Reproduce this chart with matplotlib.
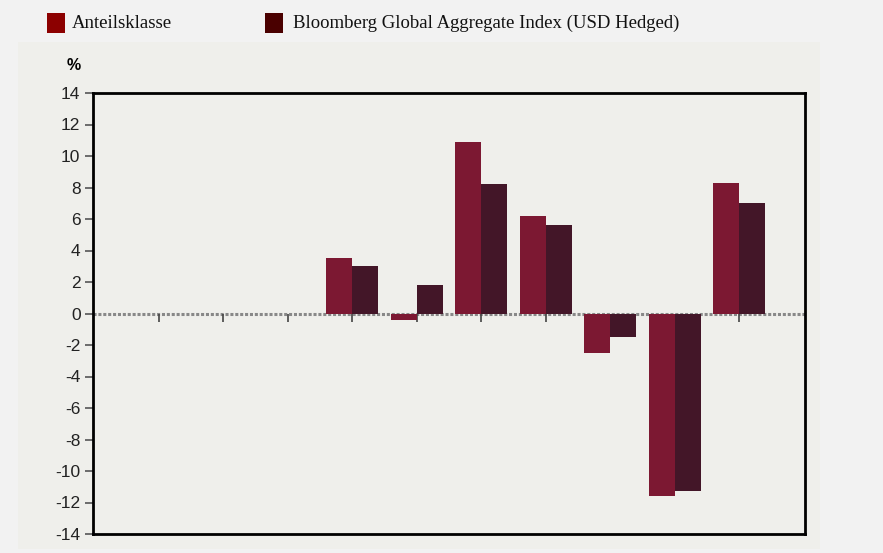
import numpy as np
import matplotlib
matplotlib.use("Agg")
import matplotlib.pyplot as plt
from matplotlib.patches import Rectangle

# Daten (Wertentwicklung in %, erste drei Perioden ohne Daten)
perioden = list(range(10))
anteilsklasse = [np.nan, np.nan, np.nan, 3.5, -0.4, 10.9, 6.2, -2.5, -11.6, 8.3]
benchmark = [np.nan, np.nan, np.nan, 3.0, 1.8, 8.2, 5.6, -1.5, -11.3, 7.0]
y_ticks = list(range(-14, 15, 2))

namen = ["Anteilsklasse", "Bloomberg Global Aggregate Index (USD Hedged)"]
farben_balken = ["#7c1832", "#431628"]
farben_legende = ["#8c0000", "#4a0000"]

fig = plt.figure(figsize=(8.83, 5.53), dpi=100)
fig.patch.set_facecolor("#f2f2f2")

# hellgraues Feld hinter dem Diagramm
fig.patches.append(Rectangle((18 / 883, 1 - 549 / 553), 802 / 883, 507 / 553,
                             transform=fig.transFigure, facecolor="#efefeb",
                             edgecolor="none", zorder=-1))

ax = fig.add_axes([93 / 883, 19 / 553, 712 / 883, 441 / 553])
ax.set_zorder(2)
ax.set_facecolor("#efefeb")

x = np.array(perioden)
breite = 0.4
ax.bar(x - breite / 2, anteilsklasse, width=breite, color=farben_balken[0], zorder=2)
ax.bar(x + breite / 2, benchmark, width=breite, color=farben_balken[1], zorder=2)

# Nulllinie mit Markierungen
ax.axhline(0, color="#888888", lw=2.2, ls=(0, (1, 0.6)), zorder=1)
ax.plot(x, np.zeros(len(x)), ls="none", marker=3, ms=6, mew=1.2,
        color="#444444", zorder=1)

ax.set_xlim(-1.02, 10.02)
ax.set_ylim(-14, 14)
ax.set_xticks([])
ax.set_yticks(y_ticks)
ax.set_yticklabels([str(v) for v in y_ticks])
ax.tick_params(axis="y", direction="out", length=6, width=1.2, color="#555555",
               pad=3, labelsize=12.5, labelcolor="#222222")
for lbl in ax.get_yticklabels():
    lbl.set_family(["Liberation Sans Narrow", "Liberation Sans", "DejaVu Sans"])

for s in ax.spines.values():
    s.set_linewidth(2)
    s.set_color("black")

fig.text(67 / 883, 1 - 66 / 553, "%", fontsize=11.5, fontweight="bold",
         va="center", ha="left", family=["Liberation Sans", "DejaVu Sans"], zorder=3)

# Legende oben
legende_x = [47, 265]
text_x = [72, 293]
for i in range(2):
    fig.patches.append(Rectangle((legende_x[i] / 883, 1 - 33 / 553), 18 / 883, 20 / 553,
                                 transform=fig.transFigure,
                                 facecolor=farben_legende[i], edgecolor="none"))
    fig.text(text_x[i] / 883, 1 - 23 / 553, namen[i], fontsize=13.5, va="center",
             ha="left", family=["Liberation Serif", "DejaVu Serif"], color="#111111")

fig.savefig("out.png", dpi=100, facecolor=fig.get_facecolor())
